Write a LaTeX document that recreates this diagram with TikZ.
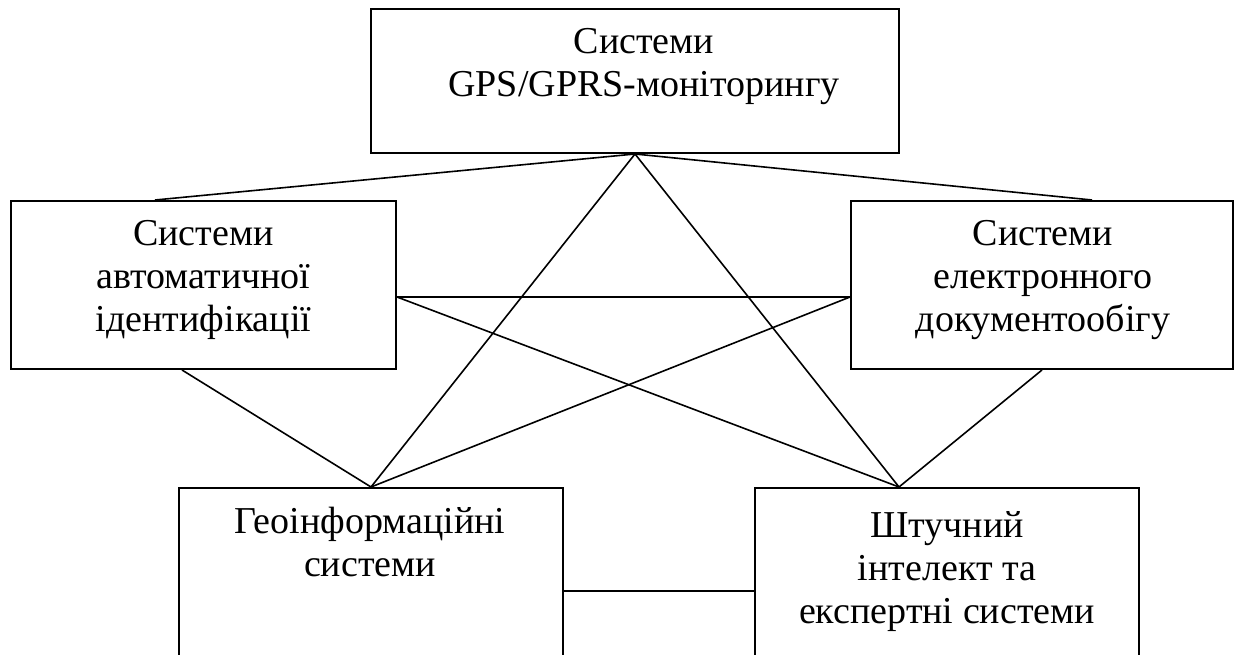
\documentclass[tikz,border=0pt]{standalone}
\usepackage{fontspec}
\setmainfont{Liberation Serif}
\usetikzlibrary{positioning}
\tikzset{
  box/.style={draw, line width=2pt, rectangle, inner sep=0pt},
  txt/.style={anchor=base, inner sep=0pt, font=\fontsize{38}{43}\selectfont},
  link/.style={draw, line width=1.6pt}
}
\newcommand{\lines}[1]{\begin{tabular}[t]{@{}c@{}}#1\end{tabular}}
\begin{document}
\begin{tikzpicture}[x=1pt,y=-1pt]
\clip (0,0) rectangle (1235,655);
\fill[white] (0,0) rectangle (1235,655);
% boxes
\node[box, minimum width=528pt, minimum height=144pt] (T) at (635,81) {};
\node[box, minimum width=385pt, minimum height=168pt] (L) at (203.5,285) {};
\node[box, minimum width=382pt, minimum height=168pt] (R) at (1042,285) {};
\node[box, minimum width=384pt, minimum height=200pt] (BL) at (371,588) {};
\node[box, minimum width=384pt, minimum height=200pt] (BR) at (947,588) {};
% texts
\node[txt] (tT) at (644,54) {\lines{Системи\\GPS/GPRS-моніторингу}};
\node[txt] (tL) at (203.5,246) {\lines{Системи\\автоматичної\\ідентифікації}};
\node[txt] (tR) at (1043,246) {\lines{Системи\\електронного\\документообігу}};
\node[txt] (tBL) at (370,533) {\lines{Геоінформаційні\\системи}};
\node[txt] (tBR) at (947,537) {\lines{Штучний\\інтелект та\\експертні системи}};
% connectors
\draw[link] (T.south) -- ([xshift=-48.5pt]L.north);
\draw[link] (T.south) -- ([xshift=50pt]R.north);
\draw[link] (T.south) -- (BL.north);
\draw[link] (T.south) -- ([xshift=-48pt]BR.north);
\draw[link] ([yshift=-12pt]L.east) -- ([yshift=-12pt]R.west);
\draw[link] ([yshift=-12pt]L.east) -- ([xshift=-48pt]BR.north);
\draw[link] ([yshift=-12pt]R.west) -- (BL.north);
\draw[link] ([xshift=-21.5pt]L.south) -- (BL.north);
\draw[link] (R.south) -- ([xshift=-48pt]BR.north);
\draw[link] ([yshift=-3pt]BL.east) -- ([yshift=-3pt]BR.west);
\end{tikzpicture}
\end{document}
